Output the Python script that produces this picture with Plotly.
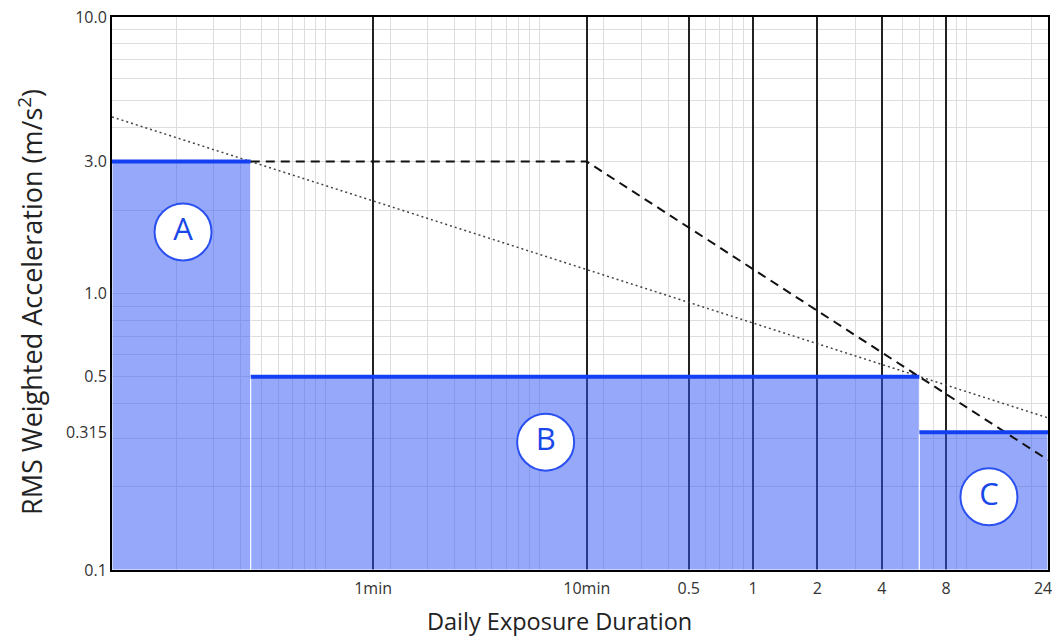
"""Whole-body vibration exposure zones (A / B / C) on log-log axes."""

import plotly.graph_objects as go

# x는 시간(h) 단위, y는 RMS 가속도(m/s^2)
zone_names = ["A", "B", "C"]
zone_start_h = [0.001, 0.00446, 6.0]
zone_end_h = [0.00446, 6.0, 24.0]
zone_level = [3.0, 0.5, 0.315]

# 원 안의 글자 위치
label_x_h = [0.00215, 0.107, 12.7]
label_y = [1.67, 0.29, 0.184]

# 점선/파선 기준선
dashed_x_h = [0.00446, 1 / 6, 24.0]
dashed_y = [3.0, 3.0, 0.25]
dotted_x_h = [0.001, 24.0]
dotted_y = [4.35, 0.355]

x_tick_vals = [1 / 60, 1 / 6, 0.5, 1, 2, 4, 8, 24]
x_tick_text = ["1min", "10min", "0.5", "1", "2", "4", "8", "24h"]
y_tick_vals = [0.1, 0.315, 0.5, 1.0, 3.0, 10.0]
y_tick_text = ["0.1", "0.315", "0.5", "1.0", "3.0", "10.0"]

AXIS_BOTTOM = 0.1
FILL = "rgba(45, 81, 245, 0.5)"
BLUE = "#1240f2"
FONT = "Open Sans"

# 로그 눈금 보조 격자 (1~9 x 10^n)
x_minor = [d * 10.0**e for e in range(-3, 2) for d in range(1, 10) if d * 10.0**e <= 24]
y_minor = [d * 10.0**e for e in range(-1, 1) for d in range(1, 10)] + [10.0]

figure = go.Figure()

for start, end, level in zip(zone_start_h, zone_end_h, zone_level):
    figure.add_trace(
        go.Scatter(
            x=[start, start, end, end, start],
            y=[AXIS_BOTTOM, level, level, AXIS_BOTTOM, AXIS_BOTTOM],
            mode="lines",
            fill="toself",
            fillcolor=FILL,
            line={"color": "white", "width": 1},
            hoverinfo="skip",
        )
    )

figure.add_trace(
    go.Scatter(
        x=dotted_x_h,
        y=dotted_y,
        mode="lines",
        line={"color": "#444444", "width": 1.5, "dash": "2px,3px"},
    )
)
figure.add_trace(
    go.Scatter(
        x=dashed_x_h,
        y=dashed_y,
        mode="lines",
        line={"color": "#111111", "width": 2, "dash": "9px,6px"},
    )
)

for start, end, level in zip(zone_start_h, zone_end_h, zone_level):
    figure.add_trace(
        go.Scatter(
            x=[start, end],
            y=[level, level],
            mode="lines",
            line={"color": BLUE, "width": 4},
        )
    )

figure.add_trace(
    go.Scatter(
        x=label_x_h,
        y=label_y,
        mode="markers+text",
        text=zone_names,
        textposition="middle center",
        textfont={"family": FONT, "size": 31, "color": "#1a48e8"},
        marker={"size": 57, "color": "white", "line": {"color": "#2a50f0", "width": 2}},
    )
)

figure.update_xaxes(
    type="log",
    range=[-3, 1.38025],
    tickmode="array",
    tickvals=x_tick_vals,
    ticktext=x_tick_text,
    ticks="",
    ticklabelstandoff=3,
    ticklabeloverflow="allow",
    tickfont={"family": FONT, "size": 16, "color": "#333333"},
    showgrid=True,
    gridcolor="#222222",
    gridwidth=1.5,
    minor={"tickmode": "array", "tickvals": x_minor, "showgrid": True,
           "gridcolor": "#dedede", "gridwidth": 1, "ticks": ""},
    showline=True,
    mirror=True,
    linecolor="black",
    linewidth=2,
    zeroline=False,
    automargin=False,
)
figure.update_yaxes(
    type="log",
    range=[-1, 1],
    tickmode="array",
    tickvals=y_tick_vals,
    ticktext=y_tick_text,
    ticks="",
    ticklabeloverflow="allow",
    tickfont={"family": FONT, "size": 16, "color": "#333333"},
    showgrid=False,
    minor={"tickmode": "array", "tickvals": y_minor, "showgrid": True,
           "gridcolor": "#dedede", "gridwidth": 1, "ticks": ""},
    showline=True,
    mirror=True,
    linecolor="black",
    linewidth=2,
    zeroline=False,
    automargin=False,
)

# 축 제목은 원본 위치에 맞추려고 annotation으로 둡니다.
title_font = {"family": FONT, "color": "#222222"}
figure.add_annotation(
    text="Daily Exposure Duration",
    xref="paper", yref="paper", x=0.4786, y=-0.093,
    xanchor="center", yanchor="middle", showarrow=False,
    font={**title_font, "size": 23.5},
)
figure.add_annotation(
    text="RMS Weighted Acceleration (m/s<sup>2</sup>)",
    xref="paper", yref="paper", x=-0.0876, y=0.4846,
    xanchor="center", yanchor="middle", textangle=-90, showarrow=False,
    font={**title_font, "size": 27},
)

figure.update_layout(
    width=1052,
    height=637,
    margin={"l": 112, "r": 4, "t": 17, "b": 67},
    plot_bgcolor="white",
    paper_bgcolor="white",
    showlegend=False,
)

# body 기본 여백을 없애 그림이 창에 딱 맞게 합니다.
figure.write_html(
    "out.html",
    config={"displayModeBar": False},
    post_script="document.body.style.margin='0';document.body.style.overflow='hidden';",
)
